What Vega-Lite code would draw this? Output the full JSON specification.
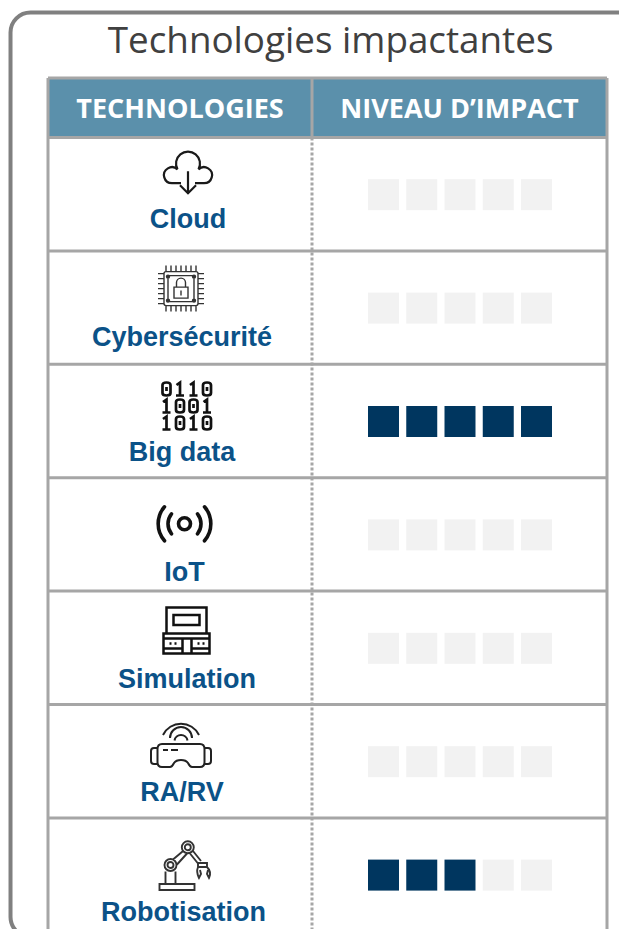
{
"$schema":"https://vega.github.io/schema/vega-lite/v6.json",
"width":619,"height":929,"padding":0,"autosize":{"type":"none"},"background":"white",
"config":{"view":{"stroke":null},"axis":{"disable":true},"legend":{"disable":true}},
"datasets":{
"technologies":[
{"technology":"Cloud","impact":0},{"technology":"Cybersécurité","impact":0},{"technology":"Big data","impact":5},{"technology":"IoT","impact":0},{"technology":"Simulation","impact":0},{"technology":"RA/RV","impact":0},{"technology":"Robotisation","impact":3}],
"cells":[
{"technology":"Cloud","niveau":1,"actif":"non"},{"technology":"Cloud","niveau":2,"actif":"non"},{"technology":"Cloud","niveau":3,"actif":"non"},{"technology":"Cloud","niveau":4,"actif":"non"},{"technology":"Cloud","niveau":5,"actif":"non"},
{"technology":"Cybersécurité","niveau":1,"actif":"non"},{"technology":"Cybersécurité","niveau":2,"actif":"non"},{"technology":"Cybersécurité","niveau":3,"actif":"non"},{"technology":"Cybersécurité","niveau":4,"actif":"non"},{"technology":"Cybersécurité","niveau":5,"actif":"non"},
{"technology":"Big data","niveau":1,"actif":"oui"},{"technology":"Big data","niveau":2,"actif":"oui"},{"technology":"Big data","niveau":3,"actif":"oui"},{"technology":"Big data","niveau":4,"actif":"oui"},{"technology":"Big data","niveau":5,"actif":"oui"},
{"technology":"IoT","niveau":1,"actif":"non"},{"technology":"IoT","niveau":2,"actif":"non"},{"technology":"IoT","niveau":3,"actif":"non"},{"technology":"IoT","niveau":4,"actif":"non"},{"technology":"IoT","niveau":5,"actif":"non"},
{"technology":"Simulation","niveau":1,"actif":"non"},{"technology":"Simulation","niveau":2,"actif":"non"},{"technology":"Simulation","niveau":3,"actif":"non"},{"technology":"Simulation","niveau":4,"actif":"non"},{"technology":"Simulation","niveau":5,"actif":"non"},
{"technology":"RA/RV","niveau":1,"actif":"non"},{"technology":"RA/RV","niveau":2,"actif":"non"},{"technology":"RA/RV","niveau":3,"actif":"non"},{"technology":"RA/RV","niveau":4,"actif":"non"},{"technology":"RA/RV","niveau":5,"actif":"non"},
{"technology":"Robotisation","niveau":1,"actif":"oui"},{"technology":"Robotisation","niveau":2,"actif":"oui"},{"technology":"Robotisation","niveau":3,"actif":"oui"},{"technology":"Robotisation","niveau":4,"actif":"non"},{"technology":"Robotisation","niveau":5,"actif":"non"}],
"separators":[{"ligne":1},{"ligne":2},{"ligne":3},{"ligne":4},{"ligne":5},{"ligne":6}],
"headers":[{"colonne":0.5,"entete":"TECHNOLOGIES"},{"colonne":1.5,"entete":"NIVEAU D’IMPACT"}],
"titles":[{"titre":"Technologies impactantes"}]
},
"resolve":{"scale":{"x":"independent","y":"independent"}},
"layer":[
{"layer":[
{"data":{"name":"titles"},"mark":{"type":"rect","cornerRadius":20,"fill":"white","stroke":"#808080","strokeWidth":4},
 "encoding":{"x":{"datum":-0.142,"type":"quantitative","scale":{"domain":[0,1,2],"range":[48,312,607],"clamp":false}},"x2":{"datum":2.5},
 "y":{"datum":-2.1,"type":"quantitative","scale":{"domain":[-1,0,7],"range":[78,137.5,931.3],"clamp":false}},"y2":{"datum":7.05}}},
{"data":{"name":"titles"},"mark":{"type":"rect","fill":"#5B90AB"},
 "encoding":{"x":{"datum":0,"type":"quantitative"},"x2":{"datum":2},"y":{"datum":-1,"type":"quantitative"},"y2":{"datum":0}}},
{"data":{"name":"separators"},"mark":{"type":"rule","stroke":"#A6A6A6","strokeWidth":3},
 "encoding":{"x":{"datum":0,"type":"quantitative"},"x2":{"datum":2},"y":{"field":"ligne","type":"quantitative"}}},
{"data":{"name":"titles"},"mark":{"type":"rule","stroke":"#A6A6A6","strokeWidth":3},
 "encoding":{"x":{"datum":0,"type":"quantitative"},"x2":{"datum":2},"y":{"datum":-1,"type":"quantitative"}}},
{"data":{"name":"titles"},"mark":{"type":"rule","stroke":"#A6A6A6","strokeWidth":3},
 "encoding":{"x":{"datum":0,"type":"quantitative"},"x2":{"datum":2},"y":{"datum":0,"type":"quantitative"}}},
{"data":{"name":"titles"},"mark":{"type":"rule","stroke":"#A6A6A6","strokeWidth":3},
 "encoding":{"x":{"datum":0,"type":"quantitative"},"y":{"datum":-1,"type":"quantitative"},"y2":{"datum":7.05}}},
{"data":{"name":"titles"},"mark":{"type":"rule","stroke":"#A6A6A6","strokeWidth":3},
 "encoding":{"x":{"datum":2,"type":"quantitative"},"y":{"datum":-1,"type":"quantitative"},"y2":{"datum":7.05}}},
{"data":{"name":"titles"},"mark":{"type":"rule","stroke":"#A6A6A6","strokeWidth":3},
 "encoding":{"x":{"datum":1,"type":"quantitative"},"y":{"datum":-1,"type":"quantitative"},"y2":{"datum":0}}},
{"data":{"name":"titles"},"mark":{"type":"rule","stroke":"#A6A6A6","strokeWidth":3,"strokeDash":[3,2]},
 "encoding":{"x":{"datum":1,"type":"quantitative"},"y":{"datum":0,"type":"quantitative"},"y2":{"datum":7.05}}},
{"data":{"name":"titles"},"mark":{"type":"text","font":"Open Sans","fontSize":36.8,"fill":"#404040","align":"center","baseline":"middle"},
 "encoding":{"x":{"datum":1.063,"type":"quantitative"},"y":{"datum":-1.6,"type":"quantitative"},"text":{"field":"titre"}}},
{"data":{"name":"headers"},"mark":{"type":"text","font":"Open Sans","fontWeight":"bold","fontSize":27,"fill":"white","align":"center","baseline":"middle"},
 "encoding":{"x":{"field":"colonne","type":"quantitative"},"y":{"datum":-0.47,"type":"quantitative"},"text":{"field":"entete"}}}
]},
{"data":{"name":"cells"},"mark":{"type":"square","size":961,"opacity":1},
 "encoding":{"x":{"field":"niveau","type":"quantitative","scale":{"domain":[1,5],"range":[383.5,536.5]}},
 "y":{"field":"technology","type":"nominal","sort":null,"scale":{"type":"band","domain":["Cloud","Cybersécurité","Big data","IoT","Simulation","RA/RV","Robotisation"],"range":[138,931.8]}},
 "color":{"field":"actif","type":"nominal","scale":{"domain":["oui","non"],"range":["#00365F","#F2F2F2"]},"legend":null}}},
{"data":{"name":"technologies"},"layer":[
{"mark":{"type":"text","font":"Liberation Sans","fontWeight":"bold","fontSize":27,"fill":"#0B5288","align":"center","baseline":"middle",
 "dx":{"expr":"{'Cloud':8,'Cybersécurité':2,'Big data':2,'IoT':4.5,'Simulation':7,'RA/RV':2,'Robotisation':3.5}[datum.technology]"},
 "dy":{"expr":"{'Cloud':26,'Cybersécurité':30.5,'Big data':32,'IoT':38.5,'Simulation':32,'RA/RV':32,'Robotisation':38.5}[datum.technology]"}},
 "encoding":{"x":{"datum":0.5,"type":"quantitative","scale":{"domain":[0,1,2],"range":[48,312,607]}},
 "y":{"field":"technology","type":"nominal","sort":null,"scale":{"type":"band","domain":["Cloud","Cybersécurité","Big data","IoT","Simulation","RA/RV","Robotisation"],"range":[137.5,931.3]}},
 "text":{"field":"technology"}}},
{"transform":[{"filter":"datum.technology==='Cloud'"}],"mark":{"type":"point","filled":false,"opacity":1,"size":4,"stroke":"#1A1A1A","strokeWidth":2.2,"xOffset":8,"yOffset":-22,
 "shape":"M-7 11H-16A8 8 0 1 1-10.5-2.8A12 12 0 1 1 10.5-2.8A8 8 0 1 1 16 11H7M0-1V21M-8 13L0 21L8 13"},
 "encoding":{"x":{"datum":0.5,"type":"quantitative"},"y":{"field":"technology","type":"nominal"}}},
{"transform":[{"filter":"datum.technology==='Cybersécurité'"}],"mark":{"type":"point","filled":false,"opacity":1,"size":4,"stroke":"#333333","strokeWidth":1.4,"xOffset":1,"yOffset":-19,
 "shape":"M-15-17H15Q17-17 17-15V15Q17 17 15 17H-15Q-17 17-17 15V-15Q-17-17-15-17ZM-13-13H13V13H-13ZM-15-23V-17M-10-23V-17M-5-23V-17M0-23V-17M5-23V-17M10-23V-17M15-23V-17M-15 17V23M-10 17V23M-5 17V23M0 17V23M5 17V23M10 17V23M15 17V23M-23-15H-17M-23-10H-17M-23-5H-17M-23 0H-17M-23 5H-17M-23 10H-17M-23 15H-17M17-15H23M17-10H23M17-5H23M17 0H23M17 5H23M17 10H23M17 15H23M-7-1.5H7V9.5H-7ZM-4.5-1.5V-6A4.5 4.5 0 0 1 4.5-6V-1.5M0 2V7M-11.5-12A1.5 1.5 0 1 0-14.5-12A1.5 1.5 0 1 0-11.5-12M14.5-12A1.5 1.5 0 1 0 11.5-12A1.5 1.5 0 1 0 14.5-12M-11.5 12A1.5 1.5 0 1 0-14.5 12A1.5 1.5 0 1 0-11.5 12M14.5 12A1.5 1.5 0 1 0 11.5 12A1.5 1.5 0 1 0 14.5 12"},
 "encoding":{"x":{"datum":0.5,"type":"quantitative"},"y":{"field":"technology","type":"nominal"}}},
{"transform":[{"filter":"datum.technology==='Big data'"}],"mark":{"type":"point","filled":false,"opacity":1,"size":4,"stroke":"#111111","strokeWidth":2.7,"xOffset":6.5,"yOffset":-15,
 "shape":"M-24-21q0-2.5 4-2.5q4 0 4 2.5v8q0 2.5-4 2.5q-4 0-4-2.5zM-20-19v4M-10-21l3.5-2.5v13M-10.5-10.5h8M3.5-21l3.5-2.5v13M3-10.5h8M16.5-21q0-2.5 4-2.5q4 0 4 2.5v8q0 2.5-4 2.5q-4 0-4-2.5zM20.5-19v4M-23.5-4l3.5-2.5v13M-24 6.5h8M-10.5-4q0-2.5 4-2.5q4 0 4 2.5v8q0 2.5-4 2.5q-4 0-4-2.5zM-6.5-2v4M3-4q0-2.5 4-2.5q4 0 4 2.5v8q0 2.5-4 2.5q-4 0-4-2.5zM7-2v4M17-4l3.5-2.5v13M16.5 6.5h8M-23.5 13l3.5-2.5v13M-24 23.5h8M-10.5 13q0-2.5 4-2.5q4 0 4 2.5v8q0 2.5-4 2.5q-4 0-4-2.5zM-6.5 15v4M3.5 13l3.5-2.5v13M3 23.5h8M16.5 13q0-2.5 4-2.5q4 0 4 2.5v8q0 2.5-4 2.5q-4 0-4-2.5zM20.5 15v4"},
 "encoding":{"x":{"datum":0.5,"type":"quantitative"},"y":{"field":"technology","type":"nominal"}}},
{"transform":[{"filter":"datum.technology==='IoT'"}],"mark":{"type":"point","filled":false,"opacity":1,"size":4,"stroke":"#111111","strokeWidth":3.6,"strokeCap":"round","xOffset":4.5,"yOffset":-10.6,
 "shape":"M6 0A6 6 0 1 0-6 0A6 6 0 1 0 6 0M-13-10A16 16 0 0 0-13 10M13-10A16 16 0 0 1 13 10M-20-17A26 26 0 0 0-20 17M20-17A26 26 0 0 1 20 17"},
 "encoding":{"x":{"datum":0.5,"type":"quantitative"},"y":{"field":"technology","type":"nominal"}}},
{"transform":[{"filter":"datum.technology==='Simulation'"}],"mark":{"type":"point","filled":false,"opacity":1,"size":4,"stroke":"#111111","strokeWidth":2.5,"xOffset":6.5,"yOffset":-17.3,
 "shape":"M-20 3V-23H20V3M-13-15.5H13V-5.5H-13ZM-23 3H23V23H-23ZM-23 8H23M-23 18H-4M5 18H23M-4 8V23M5 8V23M-17 13H-15M-12 13H-10M11 13H13M16 13H18"},
 "encoding":{"x":{"datum":0.5,"type":"quantitative"},"y":{"field":"technology","type":"nominal"}}},
{"transform":[{"filter":"datum.technology==='RA/RV'"}],"mark":{"type":"point","filled":false,"opacity":1,"size":4,"stroke":"#222222","strokeWidth":2,"xOffset":1,"yOffset":-16.2,
 "shape":"M-18-10A20 20 0 0 1 18-10M-11-7A11 11 0 0 1 11-7M-6.5-4.5A6.6 6.6 0 0 1 6.5-4.5M-19-1H19Q23.5-1 23.5 4V17Q23.5 22 19 22H11Q9 22 7 18Q5 15 0 15Q-5 15-7 18Q-9 22-11 22H-19Q-23.5 22-23.5 17V4Q-23.5-1-19-1ZM-23.5 3H-27Q-30 3-30 6V16Q-30 19-27 19H-23.5M23.5 3H27Q30 3 30 6V16Q30 19 27 19H23.5M-18 5H-13M-10 5H-3"},
 "encoding":{"x":{"datum":0.5,"type":"quantitative"},"y":{"field":"technology","type":"nominal"}}},
{"transform":[{"filter":"datum.technology==='Robotisation'"}],"mark":{"type":"point","filled":false,"opacity":1,"size":4,"stroke":"#333333","strokeWidth":1.9,"xOffset":6,"yOffset":-9.6,
 "shape":"M-26.5 19H8.5V25H-26.5ZM-20.5 19V6.5M-10.5 19V6.5M-9.5 0A6 6 0 1 0-21.5 0A6 6 0 1 0-9.5 0M-12.5 0A3 3 0 1 0-18.5 0A3 3 0 1 0-12.5 0M7.8-17.7A6 6 0 1 0-4.2-17.7A6 6 0 1 0 7.8-17.7M4.8-17.7A3 3 0 1 0-1.2-17.7A3 3 0 1 0 4.8-17.7M-13-5.5L-3.5-13.5M-9-0.5L1-11.5M7-14L15-4M4-11.5L12-1.5M12-2H21V2H12ZM12 2Q10 7 13 13L15 9L14 5M21 2Q26 7 23 13L21 9L22 5"},
 "encoding":{"x":{"datum":0.5,"type":"quantitative"},"y":{"field":"technology","type":"nominal"}}}
]}
]}
